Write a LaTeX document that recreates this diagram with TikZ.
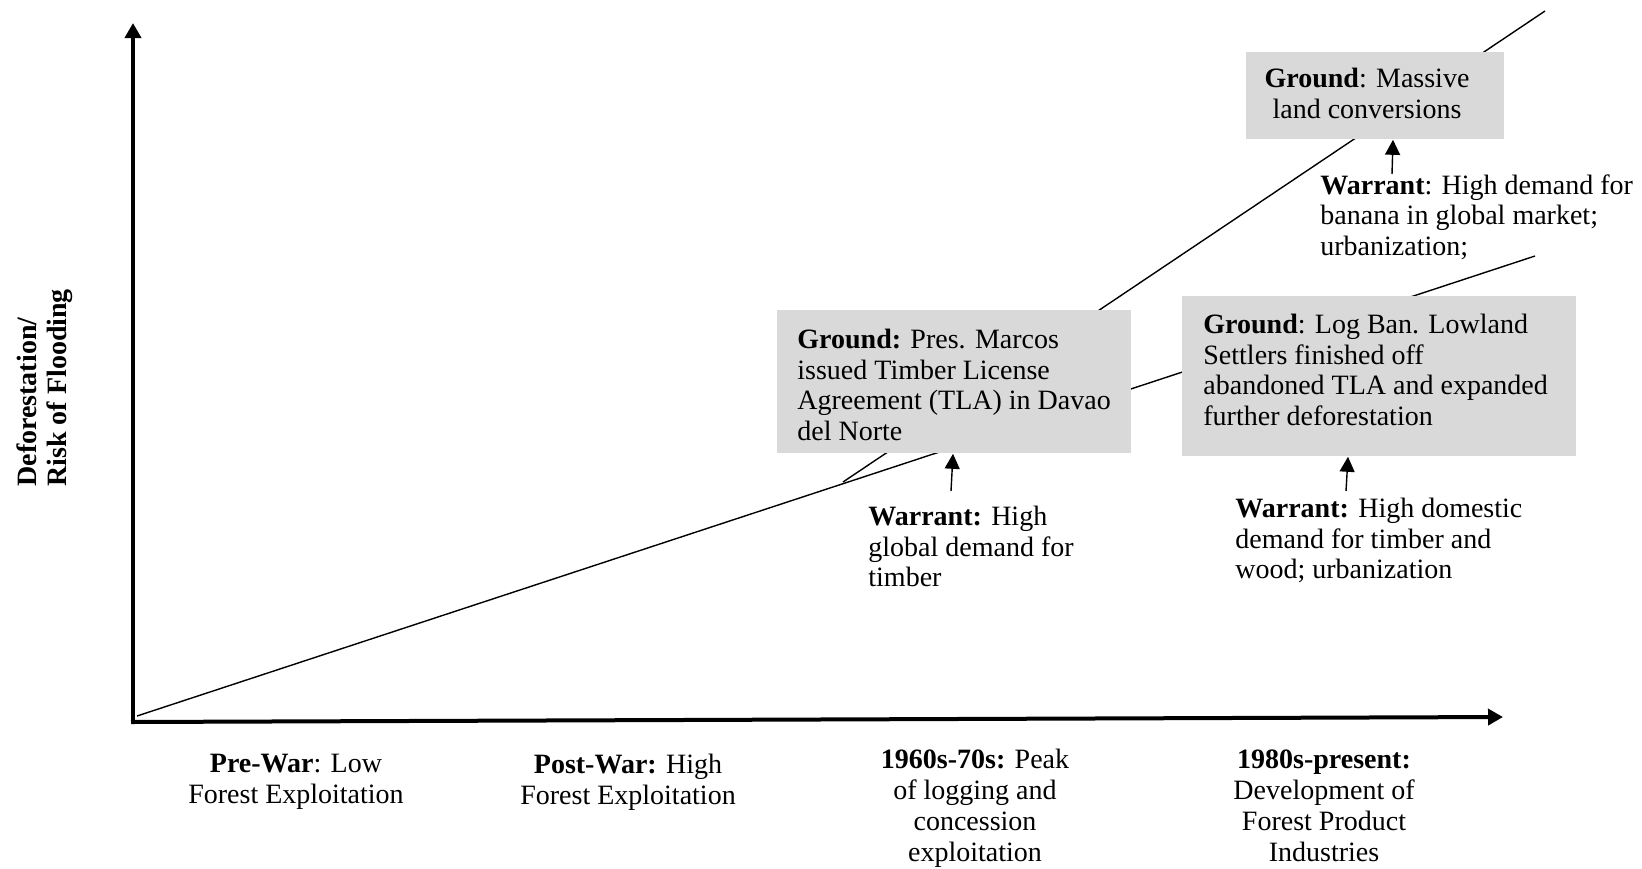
\documentclass[tikz,border=0pt]{standalone}
\usepackage{fontspec}
\setmainfont{Liberation Serif}
\usetikzlibrary{arrows.meta,calc}
\definecolor{boxgray}{HTML}{D9D9D9}
\begin{document}
\begin{tikzpicture}[x=0.5pt,y=-0.5pt,
  txt/.style={inner sep=0pt,font=\fontsize{14}{15.25}\selectfont,align=left,anchor=north west},
  ctxt/.style={inner sep=0pt,font=\fontsize{14}{15.5}\selectfont,align=center,anchor=north},
  gbox/.style={fill=boxgray,draw=none,inner sep=0pt,anchor=north west},
  axisline/.style={line width=2pt,-{Triangle[width=8pt,length=7.5pt]}},
  trend/.style={line width=0.7pt},
  warr/.style={line width=0.7pt,-{Triangle[width=7.5pt,length=7.5pt]}}]
\useasboundingbox (0,0) rectangle (1642,868);
% axes
\coordinate (origin) at (133,723);
\coordinate (ytop) at (133,23);
\coordinate (xstart) at (131,722);
\coordinate (xend) at (1503,717);
\draw[axisline] (origin) -- (ytop);
\draw[axisline] (xstart) -- (xend);
% trend lines
\coordinate (l1a) at (137,716);
\coordinate (l1b) at (1535,256);
\coordinate (l2a) at (843,482);
\coordinate (l2b) at (1545,11);
\draw[trend] (l1a) -- (l1b);
\draw[trend] (l2a) -- (l2b);
% boxes (sizes in pt: 1 unit = 0.5pt)
\node[gbox,minimum width=129pt,minimum height=43.5pt] (b3) at (1246,52) {};
\node[gbox,minimum width=177pt,minimum height=71.5pt] (b1) at (777,310) {};
\node[gbox,minimum width=197pt,minimum height=80pt] (b2) at (1182,296) {};
% box texts
\node[ctxt] (t3) at (1367,68) {\textbf{Ground}: Massive\\land conversions};
\node[txt] (t1) at (797,329) {\textbf{Ground:} Pres. Marcos\\issued Timber License\\Agreement (TLA) in Davao\\del Norte};
\node[txt] (t2) at (1203,314) {\textbf{Ground}: Log Ban. Lowland\\Settlers finished off\\abandoned TLA and expanded\\further deforestation};
% warrants
\node[txt] (w3) at (1320,174) {\textbf{Warrant}: High demand for\\banana in global market;\\urbanization;};
\node[txt] (w1) at (868,506) {\textbf{Warrant:} High\\global demand for\\timber};
\node[txt] (w2) at (1235,498) {\textbf{Warrant:} High domestic\\demand for timber and\\wood; urbanization};
\coordinate (a3) at (1392,174);
\coordinate (a1) at (951,491);
\coordinate (a2) at (1346,491);
\draw[warr] (a3) -- ($(a3 |- b3.south)+(1,0)$);
\draw[warr] (a1) -- ($(a1 |- b1.south)+(2,0)$);
\draw[warr] (a2) -- ($(a2 |- b2.south)+(2,0)$);
% y label
\node[inner sep=0pt,rotate=90,anchor=west,align=left,font=\bfseries\fontsize{14}{15}\selectfont] (ylab) at (45,487) {Deforestation/\\Risk of Flooding};
% x labels
\node[ctxt] (p1) at (296,754) {\textbf{Pre-War}: Low\\Forest Exploitation};
\node[ctxt] (p2) at (628,754) {\textbf{Post-War:} High\\Forest Exploitation};
\node[ctxt] (p3) at (975,749) {\textbf{1960s-70s:} Peak\\of logging and\\concession\\exploitation};
\node[ctxt] (p4) at (1324,749) {\textbf{1980s-present:}\\Development of\\Forest Product\\Industries};
\end{tikzpicture}
\end{document}
